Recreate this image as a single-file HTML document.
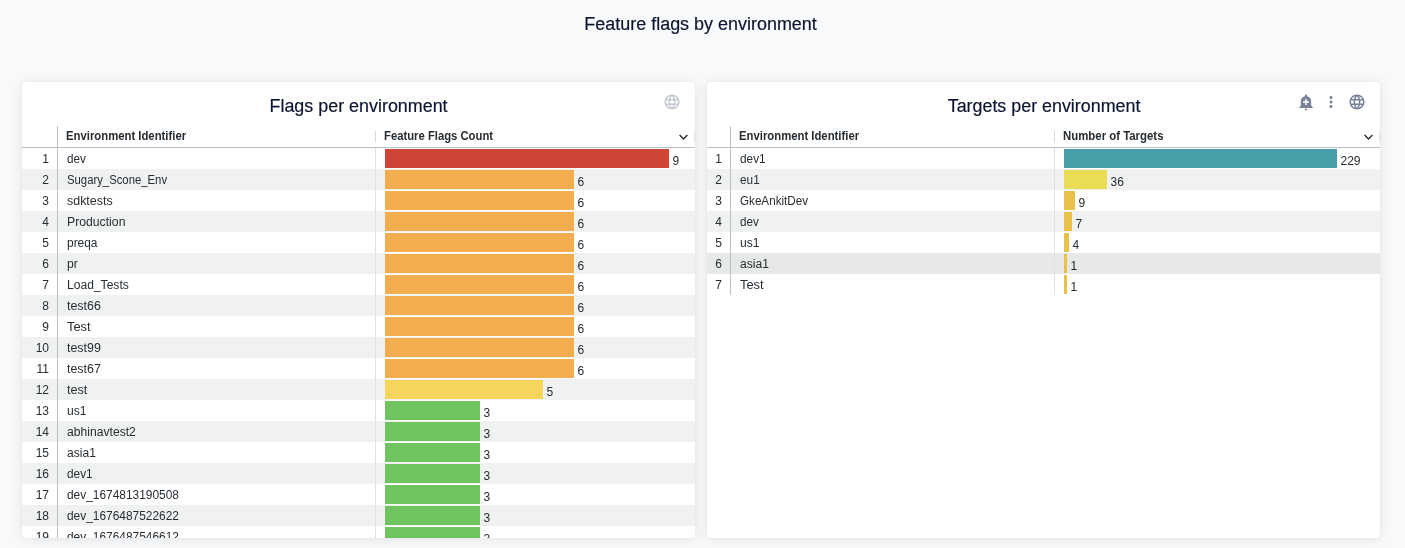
<!DOCTYPE html>
<html lang="en">
<head>
<meta charset="utf-8">
<title>Feature flags by environment</title>
<style>
html,body{margin:0;padding:0}
body{width:1405px;height:548px;overflow:hidden;background:#f8f9fb;font-family:"Liberation Sans",sans-serif;color:#262d33;position:relative}
.abs{position:absolute}
.t{position:absolute;white-space:nowrap;display:inline-block;transform-origin:0 50%}
.dash-title{position:absolute;left:-2px;width:1405px;top:13px;height:22px;line-height:22px;font-size:18px;color:#0b1430;text-align:center}
.dash-title span,.ptitle span{-webkit-text-stroke:0.18px #0b1430;display:inline-block;transform-origin:50% 50%}
.panel{position:absolute;top:82px;width:673px;height:456px;background:#fff;border-radius:4px;overflow:hidden;box-shadow:0 1px 13px rgba(0,0,0,0.085),0 0 3px rgba(0,0,0,0.05)}
.ptitle{position:absolute;left:0;width:673px;top:13px;height:22px;line-height:22px;font-size:18px;color:#0b1430;text-align:center}
.hdr{position:absolute;left:0;top:43px;width:673px;height:22px;border-bottom:1px solid #b9bec6;box-sizing:content-box}
.hdr .t{font-weight:700;font-size:12px;line-height:22px;top:0;color:#262d33}
.row{position:absolute;left:0;width:673px;height:21px;font-size:12px;line-height:21px}
.row.g{background:#f0f1f1}
.row.h{background:#e7e8e8}
.num{position:absolute;top:1px;text-align:right;height:21px}
.bar{position:absolute;top:1px;height:19px}
.val{position:absolute;top:3px;height:21px;line-height:21px;white-space:nowrap}
.vline{position:absolute;width:1px;background:#dfe1e5}
.hsep{position:absolute;width:1px;top:6px;height:11px;background:#d5d8dd}
</style>
</head>
<body>
<div class="dash-title"><span style="transform:scaleX(0.9971)">Feature flags by environment</span></div>

<div class="panel" style="left:22px">
<div class="ptitle"><span style="transform:scaleX(0.9944)">Flags per environment</span></div>
<svg class="abs" style="left:640.5px;top:11px" width="18" height="18" viewBox="0 0 24 24"><path fill="#c6c9d2" d="M11.99 2C6.47 2 2 6.48 2 12s4.47 10 9.99 10C17.52 22 22 17.52 22 12S17.52 2 11.99 2zm6.93 6h-2.95c-.32-1.25-.78-2.45-1.38-3.56 1.84.63 3.37 1.91 4.33 3.56zM12 4.04c.83 1.2 1.48 2.53 1.91 3.96h-3.82c.43-1.43 1.08-2.76 1.91-3.96zM4.26 14C4.1 13.36 4 12.69 4 12s.1-1.36.26-2h3.38c-.08.66-.14 1.32-.14 2 0 .68.06 1.34.14 2H4.26zm.82 2h2.95c.32 1.25.78 2.45 1.38 3.56-1.84-.63-3.37-1.9-4.33-3.56zm2.95-8H5.08c.96-1.66 2.49-2.93 4.33-3.56C8.81 5.55 8.35 6.75 8.03 8zM12 19.96c-.83-1.2-1.48-2.53-1.91-3.96h3.82c-.43 1.43-1.08 2.76-1.91 3.96zM14.34 14H9.66c-.09-.66-.16-1.32-.16-2 0-.68.07-1.35.16-2h4.68c.09.65.16 1.32.16 2 0 .68-.07 1.34-.16 2zm.25 5.56c.6-1.11 1.06-2.31 1.38-3.56h2.95c-.96 1.65-2.49 2.93-4.33 3.56zM16.36 14c.08-.66.14-1.32.14-2 0-.68-.06-1.34-.14-2h3.38c.16.64.26 1.31.26 2s-.1 1.36-.26 2h-3.38z"/></svg>
<div class="hdr">
<span class="t" style="left:44px;transform:scaleX(0.943)">Environment Identifier</span>
<span class="t" style="left:362px;transform:scaleX(0.94)">Feature Flags Count</span>
<div class="hsep" style="left:353px"></div><div class="hsep" style="left:672px;background:#e3e5e8"></div>
<svg class="abs" style="left:655.5px;top:8px" width="11" height="8" viewBox="0 0 11 8"><path d="M1.6 2.100 L5.500 5.900 L9.400 2.100" fill="none" stroke="#262d33" stroke-width="1.400"/></svg>
</div>
<div class="row" style="top:66px"><span class="num" style="left:0;width:27px">1</span><span class="t" style="left:45px;top:1px;transform:scaleX(0.9782)">dev</span><div class="bar" style="left:363px;width:284px;background:#d04437"></div><span class="val" style="left:650.5px">9</span></div>
<div class="row g" style="top:87px"><span class="num" style="left:0;width:27px">2</span><span class="t" style="left:45px;top:1px;transform:scaleX(0.9431)">Sugary_Scone_Env</span><div class="bar" style="left:363px;width:189px;background:#f2ad4f"></div><span class="val" style="left:555.5px">6</span></div>
<div class="row" style="top:108px"><span class="num" style="left:0;width:27px">3</span><span class="t" style="left:45px;top:1px;transform:scaleX(1.0362)">sdktests</span><div class="bar" style="left:363px;width:189px;background:#f2ad4f"></div><span class="val" style="left:555.5px">6</span></div>
<div class="row g" style="top:129px"><span class="num" style="left:0;width:27px">4</span><span class="t" style="left:45px;top:1px;transform:scaleX(1.0185)">Production</span><div class="bar" style="left:363px;width:189px;background:#f2ad4f"></div><span class="val" style="left:555.5px">6</span></div>
<div class="row" style="top:150px"><span class="num" style="left:0;width:27px">5</span><span class="t" style="left:45px;top:1px;transform:scaleX(0.9933)">preqa</span><div class="bar" style="left:363px;width:189px;background:#f2ad4f"></div><span class="val" style="left:555.5px">6</span></div>
<div class="row g" style="top:171px"><span class="num" style="left:0;width:27px">6</span><span class="t" style="left:45px;top:1px;transform:scaleX(1.0113)">pr</span><div class="bar" style="left:363px;width:189px;background:#f2ad4f"></div><span class="val" style="left:555.5px">6</span></div>
<div class="row" style="top:192px"><span class="num" style="left:0;width:27px">7</span><span class="t" style="left:45px;top:1px;transform:scaleX(1.007)">Load_Tests</span><div class="bar" style="left:363px;width:189px;background:#f2ad4f"></div><span class="val" style="left:555.5px">6</span></div>
<div class="row g" style="top:213px"><span class="num" style="left:0;width:27px">8</span><span class="t" style="left:45px;top:1px;transform:scaleX(1.0354)">test66</span><div class="bar" style="left:363px;width:189px;background:#f2ad4f"></div><span class="val" style="left:555.5px">6</span></div>
<div class="row" style="top:234px"><span class="num" style="left:0;width:27px">9</span><span class="t" style="left:45px;top:1px;transform:scaleX(1.0731)">Test</span><div class="bar" style="left:363px;width:189px;background:#f2ad4f"></div><span class="val" style="left:555.5px">6</span></div>
<div class="row g" style="top:255px"><span class="num" style="left:0;width:27px">10</span><span class="t" style="left:45px;top:1px;transform:scaleX(1.0354)">test99</span><div class="bar" style="left:363px;width:189px;background:#f2ad4f"></div><span class="val" style="left:555.5px">6</span></div>
<div class="row" style="top:276px"><span class="num" style="left:0;width:27px">11</span><span class="t" style="left:45px;top:1px;transform:scaleX(1.0354)">test67</span><div class="bar" style="left:363px;width:189px;background:#f2ad4f"></div><span class="val" style="left:555.5px">6</span></div>
<div class="row g" style="top:297px"><span class="num" style="left:0;width:27px">12</span><span class="t" style="left:45px;top:1px;transform:scaleX(1.0538)">test</span><div class="bar" style="left:363px;width:158px;background:#f5d55c"></div><span class="val" style="left:524.5px">5</span></div>
<div class="row" style="top:318px"><span class="num" style="left:0;width:27px">13</span><span class="t" style="left:45px;top:1px;transform:scaleX(1.0094)">us1</span><div class="bar" style="left:363px;width:95px;background:#70c460"></div><span class="val" style="left:461.5px">3</span></div>
<div class="row g" style="top:339px"><span class="num" style="left:0;width:27px">14</span><span class="t" style="left:45px;top:1px;transform:scaleX(1.0118)">abhinavtest2</span><div class="bar" style="left:363px;width:95px;background:#70c460"></div><span class="val" style="left:461.5px">3</span></div>
<div class="row" style="top:360px"><span class="num" style="left:0;width:27px">15</span><span class="t" style="left:45px;top:1px;transform:scaleX(1.0071)">asia1</span><div class="bar" style="left:363px;width:95px;background:#70c460"></div><span class="val" style="left:461.5px">3</span></div>
<div class="row g" style="top:381px"><span class="num" style="left:0;width:27px">16</span><span class="t" style="left:45px;top:1px;transform:scaleX(0.9863)">dev1</span><div class="bar" style="left:363px;width:95px;background:#70c460"></div><span class="val" style="left:461.5px">3</span></div>
<div class="row" style="top:402px"><span class="num" style="left:0;width:27px">17</span><span class="t" style="left:45px;top:1px;transform:scaleX(0.9926)">dev_1674813190508</span><div class="bar" style="left:363px;width:95px;background:#70c460"></div><span class="val" style="left:461.5px">3</span></div>
<div class="row g" style="top:423px"><span class="num" style="left:0;width:27px">18</span><span class="t" style="left:45px;top:1px;transform:scaleX(0.9926)">dev_1676487522622</span><div class="bar" style="left:363px;width:95px;background:#70c460"></div><span class="val" style="left:461.5px">3</span></div>
<div class="row" style="top:444px"><span class="num" style="left:0;width:27px">19</span><span class="t" style="left:45px;top:1px;transform:scaleX(0.9926)">dev_1676487546612</span><div class="bar" style="left:363px;width:95px;background:#70c460"></div><span class="val" style="left:461.5px">3</span></div>
<div class="vline" style="left:35px;top:44px;height:412px;background:#bcc0c6"></div>
<div class="vline" style="left:353px;top:66px;height:390px"></div>
</div>
<div class="panel" style="left:707px">
<div class="ptitle"><span style="transform:scaleX(0.9927) translateX(1px)">Targets per environment</span></div>
<svg class="abs" style="left:590px;top:11px" width="18" height="18" viewBox="0 0 24 24"><path fill="#798298" d="M10.01 21.01c0 1.1.89 1.99 1.99 1.99s1.990-.89 1.990-1.99h-3.980zm8.870-4.190V11c0-3.250-2.250-5.970-5.290-6.690v-.72C13.590 2.710 12.880 2 12 2s-1.590.71-1.590 1.590v.72C7.370 5.030 5.120 7.750 5.120 11v5.820L3 18.940V20h18v-1.060l-2.120-2.120zM16 13.010h-3v3h-2v-3H8V11h3V8h2v3h3v2.010z"/></svg><svg class="abs" style="left:615px;top:11px" width="18" height="18" viewBox="0 0 24 24"><path fill="#798298" d="M12 8c1.1 0 2-.9 2-2s-.9-2-2-2-2 .9-2 2 .9 2 2 2zm0 2c-1.1 0-2 .9-2 2s.9 2 2 2 2-.9 2-2-.9-2-2-2zm0 6c-1.1 0-2 .9-2 2s.9 2 2 2 2-.9 2-2-.9-2-2-2z"/></svg><svg class="abs" style="left:640.5px;top:11px" width="18" height="18" viewBox="0 0 24 24"><path fill="#798298" d="M11.99 2C6.47 2 2 6.48 2 12s4.47 10 9.99 10C17.52 22 22 17.52 22 12S17.52 2 11.99 2zm6.93 6h-2.95c-.32-1.25-.78-2.45-1.38-3.56 1.84.63 3.37 1.91 4.33 3.56zM12 4.04c.83 1.2 1.48 2.53 1.91 3.96h-3.82c.43-1.43 1.08-2.76 1.91-3.96zM4.26 14C4.1 13.36 4 12.69 4 12s.1-1.36.26-2h3.38c-.08.66-.14 1.32-.14 2 0 .68.06 1.34.14 2H4.26zm.82 2h2.95c.32 1.25.78 2.45 1.38 3.56-1.84-.63-3.37-1.9-4.33-3.56zm2.95-8H5.08c.96-1.66 2.49-2.93 4.33-3.56C8.81 5.55 8.35 6.75 8.03 8zM12 19.96c-.83-1.2-1.48-2.53-1.91-3.96h3.82c-.43 1.43-1.08 2.76-1.91 3.96zM14.34 14H9.66c-.09-.66-.16-1.32-.16-2 0-.68.07-1.35.16-2h4.68c.09.65.16 1.32.16 2 0 .68-.07 1.34-.16 2zm.25 5.56c.6-1.11 1.06-2.31 1.38-3.56h2.95c-.96 1.65-2.49 2.93-4.33 3.56zM16.36 14c.08-.66.14-1.32.14-2 0-.68-.06-1.34-.14-2h3.38c.16.64.26 1.31.26 2s-.1 1.36-.26 2h-3.38z"/></svg>
<div class="hdr">
<span class="t" style="left:32px;transform:scaleX(0.943)">Environment Identifier</span>
<span class="t" style="left:356px;transform:scaleX(0.95)">Number of Targets</span>
<div class="hsep" style="left:347px"></div><div class="hsep" style="left:672px;background:#e3e5e8"></div>
<svg class="abs" style="left:655.5px;top:8px" width="11" height="8" viewBox="0 0 11 8"><path d="M1.6 2.100 L5.500 5.900 L9.400 2.100" fill="none" stroke="#262d33" stroke-width="1.400"/></svg>
</div>
<div class="row" style="top:66px"><span class="num" style="left:0;width:15px">1</span><span class="t" style="left:33px;top:1px;transform:scaleX(0.9863)">dev1</span><div class="bar" style="left:357px;width:273px;background:#479ea8"></div><span class="val" style="left:633.5px">229</span></div>
<div class="row g" style="top:87px"><span class="num" style="left:0;width:15px">2</span><span class="t" style="left:33px;top:1px;transform:scaleX(0.984)">eu1</span><div class="bar" style="left:357px;width:43px;background:#eadc54"></div><span class="val" style="left:403.5px">36</span></div>
<div class="row" style="top:108px"><span class="num" style="left:0;width:15px">3</span><span class="t" style="left:33px;top:1px;transform:scaleX(0.9712)">GkeAnkitDev</span><div class="bar" style="left:357px;width:11px;background:#e8c14a"></div><span class="val" style="left:371.5px">9</span></div>
<div class="row g" style="top:129px"><span class="num" style="left:0;width:15px">4</span><span class="t" style="left:33px;top:1px;transform:scaleX(0.9782)">dev</span><div class="bar" style="left:357px;width:8px;background:#e8c14a"></div><span class="val" style="left:368.5px">7</span></div>
<div class="row" style="top:150px"><span class="num" style="left:0;width:15px">5</span><span class="t" style="left:33px;top:1px;transform:scaleX(1.0094)">us1</span><div class="bar" style="left:357px;width:5px;background:#e8c14a"></div><span class="val" style="left:365.5px">4</span></div>
<div class="row g h" style="top:171px"><span class="num" style="left:0;width:15px">6</span><span class="t" style="left:33px;top:1px;transform:scaleX(1.0071)">asia1</span><div class="bar" style="left:357px;width:3px;background:#e8c14a"></div><span class="val" style="left:363.5px">1</span></div>
<div class="row" style="top:192px"><span class="num" style="left:0;width:15px">7</span><span class="t" style="left:33px;top:1px;transform:scaleX(1.0731)">Test</span><div class="bar" style="left:357px;width:3px;background:#e8c14a"></div><span class="val" style="left:363.5px">1</span></div>
<div class="vline" style="left:23px;top:44px;height:169px;background:#bcc0c6"></div>
<div class="vline" style="left:347px;top:66px;height:147px"></div>
</div>
</body>
</html>
